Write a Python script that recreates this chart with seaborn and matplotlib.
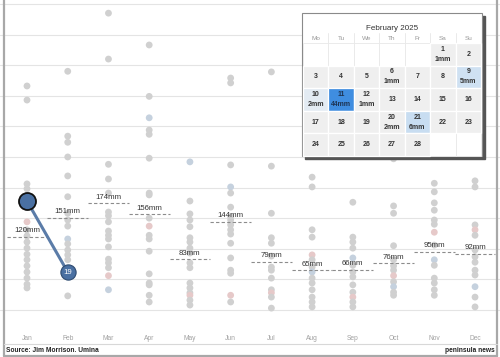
import numpy as np
import pandas as pd
import matplotlib
matplotlib.use("Agg")
import matplotlib.pyplot as plt
from matplotlib.patches import Rectangle
import seaborn as sns

# monthly rainfall (mm) for past years
months = ['Jan', 'Feb', 'Mar', 'Apr', 'May', 'Jun', 'Jul', 'Aug', 'Sep', 'Oct', 'Nov', 'Dec']
jan = [366, 343, 206, 198, 144, 131, 121, 111, 101, 91, 82, 72, 62, 52, 42, 36]
feb = [390, 284, 274, 250, 219, 185, 158, 147, 137, 116, 108, 98, 90, 82, 23]
mar = [485, 410, 238, 214, 191, 160, 154, 144, 129, 122, 116, 103, 83, 77, 69, 56, 33]
apr = [433, 349, 314, 294, 287, 248, 191, 188, 150, 137, 122, 116, 96, 59, 44, 41, 24, 13]
may = [242, 178, 157, 147, 136, 118, 111, 101, 93, 77, 69, 44, 36, 28, 24, 16, 8]
jun = [379, 371, 237, 201, 191, 168, 152, 147, 139, 131, 124, 109, 85, 65, 60, 24, 13]
jul = [389, 235, 158, 118, 109, 88, 70, 65, 52, 33, 28, 21, 3]
aug = [217, 201, 131, 119, 90, 82, 70, 62, 52, 44, 33, 21, 13, 5]
sep = [176, 119, 111, 101, 85, 73, 62, 54, 41, 29, 21, 13, 5]
oct_ = [247, 170, 158, 105, 82, 72, 65, 56, 46, 38, 29, 24]
nov = [207, 193, 175, 163, 147, 140, 127, 106, 82, 73, 52, 44, 33, 24]
dec = [211, 201, 139, 131, 122, 98, 87, 78, 65, 57, 38, 21, 5]

# tinted dots (month, value)
pink_pts = [('Jan', 144), ('Mar', 56), ('Apr', 137), ('May', 24), ('Jun', 24), ('Jul', 28),
            ('Aug', 90), ('Sep', 21), ('Oct', 56), ('Nov', 127), ('Dec', 131)]
blue_pts = [('Feb', 116), ('Mar', 33), ('Apr', 314), ('May', 242), ('Jun', 201), ('Aug', 62),
            ('Sep', 85), ('Oct', 38), ('Nov', 82), ('Dec', 38)]

# monthly averages
means = [120, 151, 174, 156, 83, 144, 79, 65, 66, 76, 95, 92]

# this year
cur_months = ['Jan', 'Feb']
cur_vals = [178, 62]
cur_label = '19'

# February 2025 calendar
cal_days = list(range(1, 29))
rain_days = [1, 6, 9, 10, 11, 12, 20, 21]
rain_mm = [1, 1, 5, 2, 44, 1, 2, 6]
cell_colors = {9: '#cfe1f2', 10: '#e3ebf3', 11: '#3f8de0', 21: '#c8ddf1'}
weekdays = ['Mo', 'Tu', 'We', 'Th', 'Fr', 'Sa', 'Su']

# build table
rows = []
for m, vals in zip(months, [jan, feb, mar, apr, may, jun, jul, aug, sep, oct_, nov, dec]):
    for v in vals:
        tint = 'grey'
        if (m, v) in pink_pts:
            tint = 'pink'
        elif (m, v) in blue_pts:
            tint = 'blue'
        rows.append({'month': m, 'rain': v, 'tint': tint})
df = pd.DataFrame(rows)

sns.set_theme(style="white")
plt.rcParams['font.family'] = ['Liberation Sans', 'DejaVu Sans']
fig = plt.figure(figsize=(5, 3.57), dpi=100)
ax = fig.add_axes([0, 14 / 357, 1, 343 / 357])

sns.stripplot(data=df, x='month', y='rain', hue='tint', order=months,
              palette={'grey': '#d0d0d0', 'pink': '#e6c9c9', 'blue': '#c5d1de'},
              jitter=False, size=4.9, linewidth=0, legend=False, ax=ax, zorder=3)

xs = np.arange(len(months))
ax.hlines(means, xs - 0.5, xs + 0.5, colors='#8c8c8c', linestyles=(0, (3, 2)), lw=0.8, zorder=4)
for x, m in zip(xs, means):
    ax.text(x, m + 4, f'{m}mm', ha='center', va='bottom', fontsize=5.6, color='#333333', zorder=5)

cx = [months.index(m) for m in cur_months]
ax.plot(cx, cur_vals, color='#5b7ca8', lw=2.2, zorder=6)
ax.scatter(cx[:1], cur_vals[:1], s=150, color='#4a70a2', edgecolor='#111111', linewidth=1.3, zorder=7)
ax.scatter(cx[1:], cur_vals[1:], s=120, color='#4a70a2', edgecolor='#2d4a70', linewidth=0.8, zorder=7)
ax.text(cx[1], cur_vals[1], cur_label, ha='center', va='center', fontsize=5.6, color='white', zorder=8)

for x, m in zip(xs, months):
    ax.text(x, -47, m, ha='center', va='center', fontsize=4.8, color='#a0a0a0')

ax.set_xlim(-0.663, 11.613)
ax.set_ylim(-54, 506.5)
ax.set_yticks(range(0, 501, 50))
ax.yaxis.grid(True, color='#e4e4e4', lw=0.8)
ax.set_axisbelow(True)
ax.set_xticks([])
ax.tick_params(left=False, labelleft=False)
ax.set_xlabel('')
ax.set_ylabel('')
for s in ax.spines.values():
    s.set_visible(False)

# overlay in pixel coordinates: frame, footer and calendar
ov = fig.add_axes([0, 0, 1, 1], zorder=10)
ov.set_xlim(0, 500)
ov.set_ylim(357, 0)
ov.axis('off')
ov.patch.set_alpha(0)
ov.plot([3.5, 3.5], [0, 356], color='#a8a8a8', lw=1.6)
ov.plot([497, 497], [0, 356], color='#a8a8a8', lw=1.6)
ov.plot([3.5, 497], [356, 356], color='#a8a8a8', lw=1.6)
ov.plot([4, 497], [344, 344], color='#d8d8d8', lw=0.8)
ov.text(6, 350.5, 'Source: Jim Morrison. Umina', ha='left', va='center', fontsize=4.8,
        fontweight='bold', color='#222222')
ov.text(495, 350.5, 'peninsula news', ha='right', va='center', fontsize=4.8,
        fontweight='bold', color='#222222')

bx, by, bw, bh = 302, 13, 180, 143
ov.add_patch(Rectangle((bx + 2.5, by + 2.5), bw, bh, color='#555555', zorder=1))
ov.add_patch(Rectangle((bx, by), bw, bh, facecolor='white', edgecolor='#8a8a8a', lw=0.8, zorder=2))
ov.text(bx + bw / 2, 28, 'February 2025', ha='center', va='center', fontsize=5.8, color='#333333', zorder=3)
col_w = (bw - 2) / 7
row_h = 22.6
x0, y0 = bx + 1, 43
for i, w in enumerate(weekdays):
    ov.text(x0 + (i + 0.5) * col_w, 38, w, ha='center', va='center', fontsize=4.6, color='#999999', zorder=3)
    if i > 0:
        ov.plot([x0 + i * col_w] * 2, [33, 43], color='#e6e6e6', lw=0.6, zorder=3)
for r in range(5):
    for c in range(7):
        ov.add_patch(Rectangle((x0 + c * col_w, y0 + r * row_h), col_w, row_h,
                               facecolor='white', edgecolor='#e8e8e8', lw=0.6, zorder=3))
for d in cal_days:
    idx = d + 4
    r, c = idx // 7, idx % 7
    fc = cell_colors.get(d, '#efefef')
    ov.add_patch(Rectangle((x0 + c * col_w, y0 + r * row_h), col_w, row_h,
                           facecolor=fc, edgecolor='white', lw=0.9, zorder=4))
    tx = x0 + (c + 0.5) * col_w
    ty = y0 + (r + 0.5) * row_h
    tc = '#1d3352' if d == 11 else '#333333'
    if d in rain_days:
        mm = rain_mm[rain_days.index(d)]
        ov.text(tx, ty - 5, str(d), ha='center', va='center', fontsize=5, fontweight='bold', color=tc, zorder=5)
        ov.text(tx, ty + 5, f'{mm}mm', ha='center', va='center', fontsize=5, fontweight='bold', color=tc, zorder=5)
    else:
        ov.text(tx, ty, str(d), ha='center', va='center', fontsize=5, fontweight='bold', color=tc, zorder=5)

fig.savefig('out.png', dpi=100)
